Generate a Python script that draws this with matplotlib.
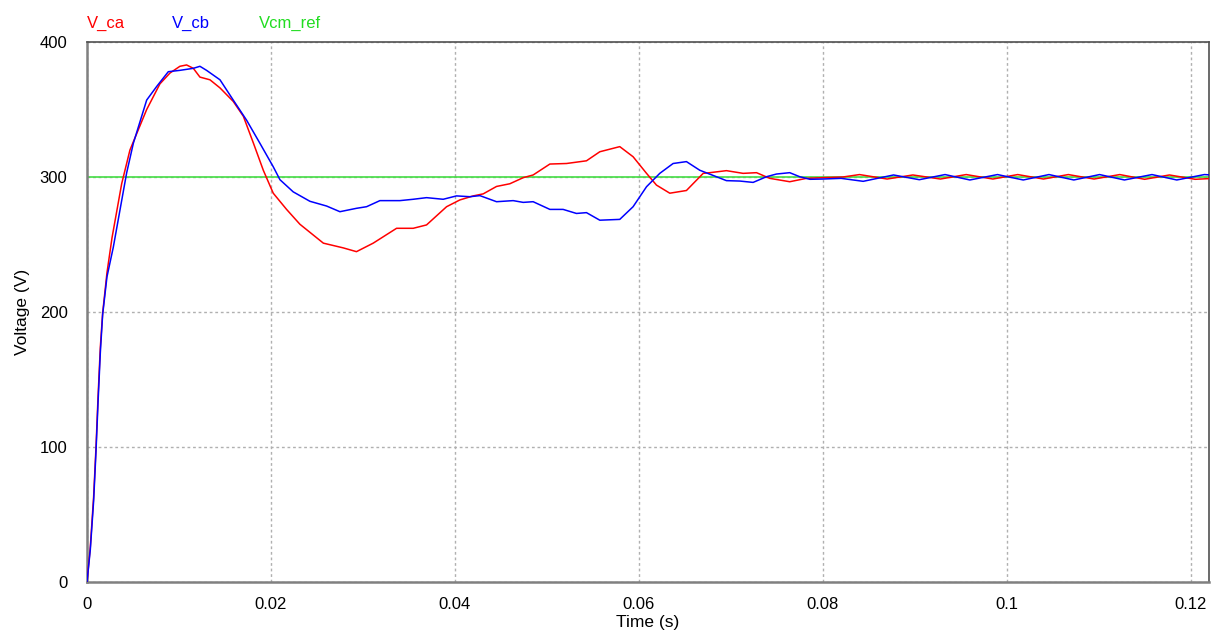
import matplotlib.pyplot as plt
import matplotlib as mpl
from matplotlib.ticker import FormatStrFormatter

mpl.rcParams['font.family'] = ['Liberation Sans', 'DejaVu Sans']
mpl.rcParams['xtick.major.size'] = 0
mpl.rcParams['ytick.major.size'] = 0

# capacitor voltages (time in s, voltage in V)
t_ca = [0, 0.00036, 0.00072, 0.00098, 0.0012, 0.00145, 0.0017, 0.00217, 0.00272,
        0.00377, 0.00467, 0.00649, 0.00793, 0.00902, 0.0101, 0.01083, 0.01156,
        0.01228, 0.01337, 0.01446, 0.0159, 0.017, 0.0181, 0.01917, 0.02025,
        0.0217, 0.02315, 0.0257, 0.02786, 0.0293, 0.03112, 0.03366, 0.03547,
        0.03692, 0.0391, 0.04054, 0.042, 0.04308, 0.04453, 0.04598, 0.04743,
        0.04851, 0.05033, 0.05214, 0.05431, 0.05576, 0.05793, 0.05938, 0.06084,
        0.06192, 0.06337, 0.06518, 0.067, 0.06772, 0.06953, 0.07134, 0.0728,
        0.07424, 0.07641, 0.07823, 0.0800, 0.0822, 0.0840, 0.0870, 0.0898,
        0.0928, 0.0956, 0.0985, 0.1012, 0.1040, 0.1067, 0.1095, 0.1123, 0.1150,
        0.1177, 0.1205, 0.122]
v_ca = [0, 26, 63, 100, 137, 174, 199, 229, 255,
        295, 320, 350, 369, 377, 382, 383, 380.5,
        374, 372, 366, 356, 345, 325, 305, 288,
        276, 265, 251, 247.5, 244.7, 251, 262, 262,
        264.5, 278, 283, 286, 287.5, 293, 295, 299.5,
        301.5, 309.6, 310, 312, 318.7, 322.5, 315, 302.7,
        294, 288, 290, 302.7, 303.2, 304.7, 302.7, 303.2,
        299, 296.5, 299, 299.5, 300, 301.8, 298.5, 301.5,
        298.5, 301.8, 298.5, 301.8, 298.5, 301.8, 298.5, 301.8, 298.3,
        301.5, 298.3, 298.8]

t_cb = [0, 0.00036, 0.00072, 0.00098, 0.0012, 0.00145, 0.0017, 0.00217, 0.00286,
        0.00431, 0.00504, 0.00649, 0.00757, 0.00884, 0.0101, 0.01156, 0.01228,
        0.013, 0.01446, 0.0159, 0.01736, 0.0188, 0.02025, 0.02098, 0.02242,
        0.02424, 0.02605, 0.0275, 0.0293, 0.0304, 0.03185, 0.03402, 0.03547,
        0.03692, 0.03873, 0.04018, 0.04163, 0.04272, 0.04453, 0.04634, 0.04743,
        0.04851, 0.05033, 0.05177, 0.05322, 0.05431, 0.05576, 0.05793, 0.05938,
        0.06084, 0.06228, 0.06373, 0.06518, 0.06663, 0.06844, 0.06953, 0.07098,
        0.07243, 0.07388, 0.07497, 0.07641, 0.0775, 0.0786, 0.0800, 0.0820,
        0.0844, 0.0877, 0.0905, 0.0933, 0.0960, 0.0990, 0.1018, 0.1046, 0.1073,
        0.1101, 0.1128, 0.1158, 0.1185, 0.1215, 0.122]
v_cb = [0, 24, 60, 97, 133, 170, 198, 226, 248,
        303, 325, 357, 367, 378, 379, 380.5, 382,
        379, 372, 357, 342, 325, 307.6, 298, 289,
        282, 278.5, 274.3, 276.8, 278, 282.5, 282.5, 283.5,
        284.7, 283.5, 286, 285.4, 286.2, 281.7, 282.5, 281.2,
        281.7, 276, 276, 273, 273.6, 268, 268.6, 278,
        292.8, 302.7, 310, 311.4, 305, 300.2, 297.3, 297,
        296, 300.2, 302.2, 303.2, 300.2, 298.3, 298.5, 299,
        296.8, 301.5, 298, 301.8, 297.8, 301.8, 297.8, 301.8, 297.8,
        301.8, 297.8, 301.8, 297.8, 301.8, 301.6]

t_ref = [0, 0.122]
v_ref = [300, 300]

fig = plt.figure(figsize=(12.12, 6.32), dpi=100)
ax = fig.add_axes([87 / 1212, 1 - 582 / 632, 1122 / 1212, 540 / 632])

ax.plot(t_ref, v_ref, color='#44dd44', lw=1.2, zorder=2)
ax.plot(t_ca, v_ca, color='#ff0000', lw=1.1, zorder=3)
ax.plot(t_cb, v_cb, color='#0000ff', lw=1.1, zorder=4)

ax.set_xlim(0, 0.122)
ax.set_ylim(0, 400)
ax.set_xticks([0, 0.02, 0.04, 0.06, 0.08, 0.1, 0.12])
ax.set_yticks([0, 100, 200, 300, 400])
ax.xaxis.set_major_formatter(FormatStrFormatter('%g'))
ax.tick_params(axis='x', pad=11, labelsize=12)
ax.tick_params(axis='y', pad=14, labelsize=12)

ax.grid(True, color='#b0b0b0', linestyle=(0, (2, 2)), lw=1.0)
ax.set_axisbelow(True)
for side in ['left', 'bottom']:
    ax.spines[side].set_color('#808080')
    ax.spines[side].set_linewidth(1.8)
for side in ['top', 'right']:
    ax.spines[side].set_color('#505050')
    ax.spines[side].set_linewidth(1.2)

ax.set_xlabel('Time (s)', fontsize=12.5, labelpad=2)
ax.set_ylabel('Voltage (V)', fontsize=12.5, labelpad=7)

# trace names above the plot, coloured like the curves
fig.text(87 / 1212, 1 - 28 / 632, 'V_ca', color='#ff0000', fontsize=12)
fig.text(172 / 1212, 1 - 28 / 632, 'V_cb', color='#0000ff', fontsize=12)
fig.text(259 / 1212, 1 - 28 / 632, 'Vcm_ref', color='#22dd22', fontsize=12)

fig.savefig('out.png', dpi=100)
